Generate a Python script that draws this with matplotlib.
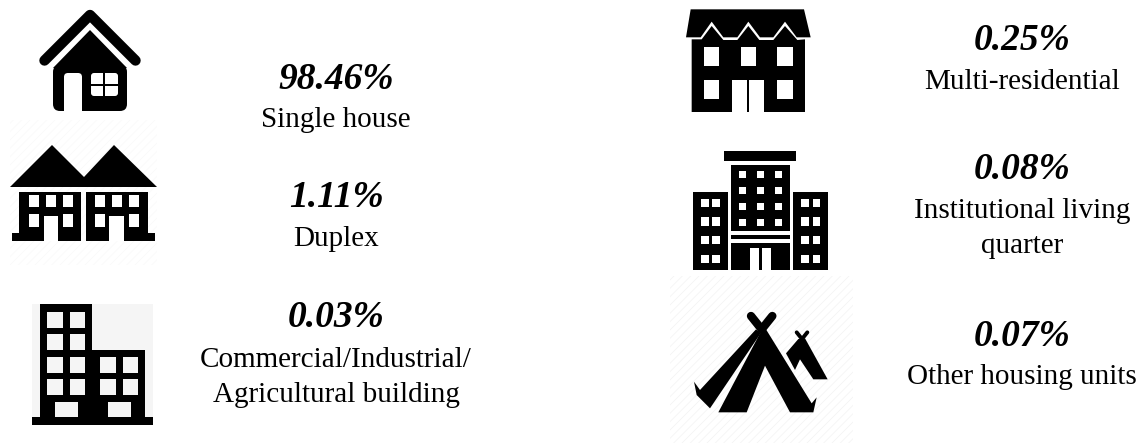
import matplotlib
matplotlib.use("Agg")
import matplotlib.pyplot as plt
from matplotlib.patches import Polygon, Rectangle, FancyBboxPatch

# shares of housing types
shares = ["98.46%", "1.11%", "0.03%", "0.25%", "0.08%", "0.07%"]
labels = ["Single house", "Duplex", "Commercial/Industrial/\nAgricultural building",
          "Multi-residential", "Institutional living\nquarter", "Other housing units"]

plt.rcParams['font.family'] = ['Liberation Serif', 'DejaVu Serif']
plt.rcParams['hatch.linewidth'] = 0.6

fig = plt.figure(figsize=(11.44, 4.43), dpi=100)
ax = fig.add_axes([0, 0, 1, 1])
ax.set_xlim(0, 1144)
ax.set_ylim(443, 0)
ax.axis('off')


def box(x0, y0, x1, y1, c='black', z=2):
    ax.add_patch(Rectangle((x0, y0), x1 - x0, y1 - y0, fc=c, ec='none', zorder=z))


def poly(pts, c='black', z=2):
    ax.add_patch(Polygon(pts, closed=True, fc=c, ec='none', zorder=z))


def zpoly(pts, x0=660, c='black', z=2):
    poly([(x0 + x / 3, y / 3) for x, y in pts], c, z)


def house():
    ax.plot([44.5, 90, 135.5], [60.5, 15, 60.5], color='black', lw=7.5, solid_capstyle='round',
            solid_joinstyle='round', zorder=2)
    ax.add_patch(FancyBboxPatch((58, 70), 64, 36, boxstyle="round,pad=5,rounding_size=7", fc='black', ec='none', zorder=2))
    poly([(53, 68), (90, 30), (127, 68)])
    ax.add_patch(FancyBboxPatch((66, 75), 14, 40, boxstyle="round,pad=2,rounding_size=4", fc='white', ec='none', zorder=3))
    box(64, 100, 82, 112, 'white', 3)
    ax.add_patch(FancyBboxPatch((93, 75), 23, 19, boxstyle="round,pad=2,rounding_size=3", fc='white', ec='none', zorder=3))
    box(103.2, 72, 105.2, 97, 'black', 4)
    box(90, 84, 119, 86, 'black', 4)


def duplex():
    ax.add_patch(Rectangle((10, 120), 147, 145, fc='white', ec='#fafafa', lw=0, hatch='////', zorder=1))
    poly([(10, 187), (52, 145), (84, 177), (114, 145), (157, 187)])
    for x0, x1, base in [(19, 81, (12, 19)), (86, 148, (148, 155))]:
        box(x0, 191.5, x1, 241)
        box(base[0], 233, base[1], 241)
    for off in [0, 65.5]:
        for x in [29, 46, 63]:
            box(off + x, 194.5, off + x + 10, 207, 'white', 3)
        for x in [29, 63]:
            box(off + x, 214, off + x + 10, 227, 'white', 3)
        box(off + 43.5, 216, off + 58, 241, 'white', 3)


def commercial():
    box(32, 304, 153, 425, '#f5f5f5', 1)
    box(40, 304, 92, 420)
    box(92, 350, 145, 420)
    box(32, 417, 153, 425)
    for y in [312, 334, 357, 379]:
        for x in [47, 69.5]:
            box(x, y, x + 15.5, y + 15.5, '#f5f5f5', 3)
    for y in [357, 379]:
        for x in [100, 122.5]:
            box(x, y, x + 15.5, y + 15.5, '#f5f5f5', 3)
    box(54.5, 402, 78, 417, '#f5f5f5', 3)
    box(107.5, 402, 130.5, 417, '#f5f5f5', 3)


def multi():
    zpoly([(92, 28), (432, 28), (452, 112), (410, 112), (375, 65), (340, 112), (300, 112), (265, 65),
           (232, 112), (190, 112), (155, 65), (122, 112), (78, 112)])
    zpoly([(95, 118), (125, 118), (155, 78), (190, 120), (232, 120), (265, 78), (298, 120), (340, 120),
           (375, 78), (412, 120), (435, 118), (435, 336), (95, 336)])
    for x in [132, 242, 352]:
        zpoly([(x, 142), (x + 46, 142), (x + 46, 198), (x, 198)], c='white', z=3)
    for x in [132, 352]:
        zpoly([(x, 240), (x + 46, 240), (x + 46, 297), (x, 297)], c='white', z=3)
    zpoly([(217, 240), (313, 240), (313, 337), (217, 337)], c='white', z=3)
    zpoly([(262, 240), (267, 240), (267, 337), (262, 337)], z=4)


def institutional():
    def zbox(x0, y0, x1, y1, c='black', z=2):
        box(660 + x0 / 3, y0 / 3, 660 + x1 / 3, y1 / 3, c, z)
    zbox(193, 453, 409, 484)
    zbox(214, 495, 390, 693)
    zbox(214, 706, 390, 718)
    zbox(214, 728, 390, 810)
    zbox(270, 745, 333, 811, 'white', 3)
    zbox(297, 745, 306, 811, 'black', 4)
    zbox(99, 575, 204, 810)
    zbox(400, 575, 505, 810)
    for y in [513, 560, 610, 657]:
        for x in [238, 292, 345]:
            zbox(x, y, x + 21, y + 21, 'white', 3)
    for y in [596, 652, 708, 764]:
        for x in [123, 157, 424, 458]:
            zbox(x, y, x + 23, y + 25, 'white', 3)


def tent():
    def tpoly(pts):
        poly([(680 + x / 3, 300 + y / 3) for x, y in pts])

    ax.add_patch(Rectangle((670, 276), 183, 167, fc='white', ec='#f4f4f4', lw=0, hatch='////', zorder=1))
    for px, py in [(213, 48), (277, 48)]:
        ax.plot([680 + px / 3, 680 + 245 / 3], [300 + py / 3, 300 + 88 / 3], color='black', lw=6,
                solid_capstyle='round', zorder=2)
    tpoly([(228, 88), (242, 100), (90, 325), (50, 285), (42, 245), (60, 270)])
    tpoly([(240, 100), (258, 88), (395, 310), (410, 292), (400, 337), (330, 337), (255, 197), (200, 337), (115, 337)])
    for px in [350, 382]:
        ax.plot([680 + px / 3, 680 + 366 / 3], [300 + 97 / 3, 300 + 117 / 3], color='black', lw=2.8,
                solid_capstyle='round', zorder=2)
    tpoly([(318, 160), (355, 117), (375, 115), (443, 238), (400, 238), (360, 178), (345, 210)])


house()
duplex()
commercial()
multi()
institutional()
tent()

# text positions: centre x and baselines, one entry per category
text_x = [336, 336, 336, 1022, 1022, 1022]
share_base = [89.3, 207, 327.3, 50, 179.3, 345.7]
label_base = [127, 246, 366.7, 89, 218.3, 384.3]
line_step = 35

for i in range(len(shares)):
    ax.text(text_x[i], share_base[i], shares[i], fontsize=27, fontweight='bold', fontstyle='italic',
            ha='center', va='baseline', color='black')
    for j, line in enumerate(labels[i].split("\n")):
        ax.text(text_x[i], label_base[i] + j * line_step, line, fontsize=21, ha='center', va='baseline',
                color='black')

fig.savefig('out.png', dpi=100, facecolor='white')
